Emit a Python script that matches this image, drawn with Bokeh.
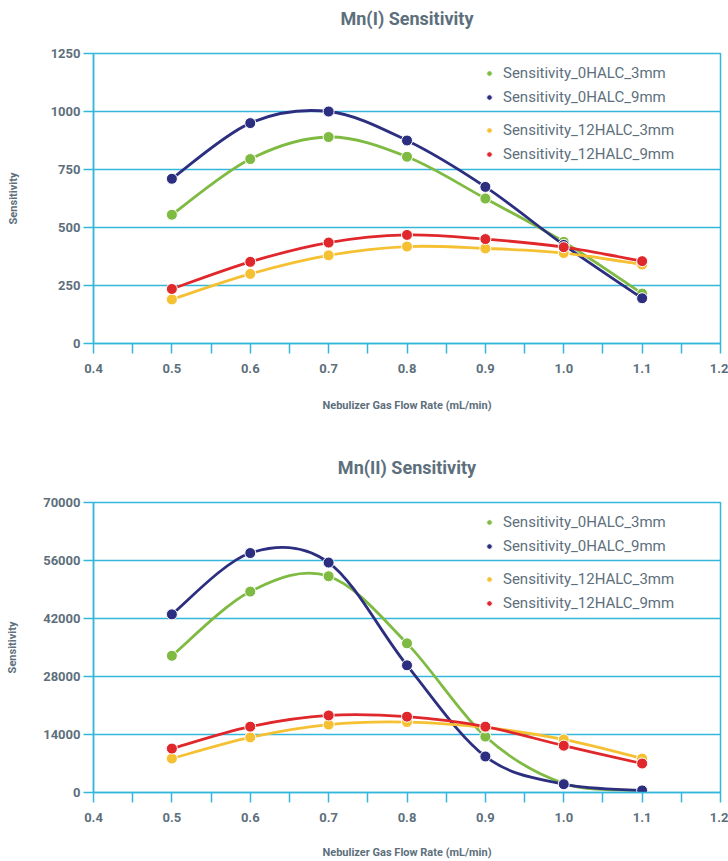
from bokeh.plotting import figure
from bokeh.models import (Range1d, FixedTicker, PrintfTickFormatter,
                          Legend, LegendItem, Title, ColumnDataSource)
from bokeh.layouts import column
from bokeh.embed import file_html
from bokeh.resources import INLINE

# ---------------- data ----------------
flow = [0.5, 0.6, 0.7, 0.8, 0.9, 1.0, 1.1]
series_names = ["Sensitivity_0HALC_3mm", "Sensitivity_0HALC_9mm",
                "Sensitivity_12HALC_3mm", "Sensitivity_12HALC_9mm"]

mn1_0halc_3mm = [555, 795, 890, 805, 625, 438, 215]
mn1_0halc_9mm = [710, 950, 1000, 875, 675, 425, 195]
mn1_12halc_3mm = [190, 300, 380, 418, 410, 390, 340]
mn1_12halc_9mm = [235, 352, 435, 468, 450, 415, 355]

mn2_0halc_3mm = [33000, 48500, 52200, 36000, 13500, 2200, 500]
mn2_0halc_9mm = [43000, 57800, 55500, 30700, 8700, 2000, 500]
mn2_12halc_3mm = [8200, 13300, 16400, 17000, 15700, 12800, 8200]
mn2_12halc_9mm = [10600, 15900, 18600, 18300, 15900, 11300, 7000]

x_ticks = [0.4, 0.5, 0.6, 0.7, 0.8, 0.9, 1.0, 1.1, 1.2]
x_minor_ticks = [0.45, 0.55, 0.65, 0.75, 0.85, 0.95, 1.05, 1.15]
mn1_y_ticks = [0, 250, 500, 750, 1000, 1250]
mn2_y_ticks = [0, 14000, 28000, 42000, 56000, 70000]

# ---------------- style ----------------
COLORS = ["#7fba42", "#2c2f80", "#f6c033", "#e0272b"]
GRID = "#35b7db"
TEXT = "#5d6f7c"
FONT = "Roboto"


def smooth_segments(xs, ys):
    """Bezier (Catmull-Rom style) control points for a smoothed line through the points."""
    n = len(xs)
    seg = dict(x0=[], y0=[], x1=[], y1=[], cx0=[], cy0=[], cx1=[], cy1=[])
    for i in range(n - 1):
        ip = max(i - 1, 0)
        inn = min(i + 2, n - 1)
        seg["x0"].append(xs[i]); seg["y0"].append(ys[i])
        seg["x1"].append(xs[i + 1]); seg["y1"].append(ys[i + 1])
        seg["cx0"].append(xs[i] + (xs[i + 1] - xs[ip]) / 6.0)
        seg["cy0"].append(ys[i] + (ys[i + 1] - ys[ip]) / 6.0)
        seg["cx1"].append(xs[i + 1] - (xs[inn] - xs[i]) / 6.0)
        seg["cy1"].append(ys[i + 1] - (ys[inn] - ys[i]) / 6.0)
    return seg


def make_chart(title, series, yticks, height, border_bottom, ylabel_standoff, xlabel_standoff):
    p = figure(width=728, height=height, output_backend="svg", toolbar_location=None,
               x_range=Range1d(0.4, 1.2), y_range=Range1d(yticks[0], yticks[-1]),
               min_border_left=93, min_border_right=8, min_border_top=53,
               min_border_bottom=border_bottom)
    p.background_fill_color = "white"
    p.border_fill_color = "white"
    p.outline_line_color = GRID
    p.outline_line_width = 1.5

    # spacer between title and frame, then the real title (outermost)
    p.add_layout(Title(text=" ", text_font_size="1px", standoff=22), "above")
    p.title.text = title
    p.title.align = "center"
    p.title.standoff = 0
    p.title.text_font = FONT
    p.title.text_font_size = "18px"
    p.title.text_font_style = "bold"
    p.title.text_color = TEXT

    # axes
    p.xaxis.ticker = FixedTicker(ticks=x_ticks, minor_ticks=x_minor_ticks)
    p.xaxis.formatter = PrintfTickFormatter(format="%.1f")
    p.yaxis.ticker = FixedTicker(ticks=yticks)
    for ax in (p.xaxis[0], p.yaxis[0]):
        ax.axis_line_color = GRID
        ax.axis_line_width = 1.5
        ax.major_tick_line_color = GRID
        ax.major_tick_line_width = 1.5
        ax.minor_tick_line_color = GRID
        ax.minor_tick_line_width = 1.5
        ax.major_tick_in = 0
        ax.major_tick_out = 10
        ax.minor_tick_in = 0
        ax.major_label_text_font = FONT
        ax.major_label_text_font_size = "13px"
        ax.major_label_text_font_style = "bold"
        ax.major_label_text_color = TEXT
        ax.axis_label_text_font = FONT
        ax.axis_label_text_font_size = "11px"
        ax.axis_label_text_font_style = "bold"
        ax.axis_label_text_color = TEXT
    p.xaxis.minor_tick_out = 10
    p.yaxis.minor_tick_line_color = None
    p.xaxis.major_label_standoff = 10
    p.yaxis.major_label_standoff = 3
    p.xaxis.axis_label = "Nebulizer Gas Flow Rate (mL/min)"
    p.yaxis.axis_label = "Sensitivity"
    p.xaxis.axis_label_standoff = xlabel_standoff
    p.yaxis.axis_label_standoff = ylabel_standoff

    p.xgrid.grid_line_color = None
    p.ygrid.ticker = FixedTicker(ticks=yticks)
    p.ygrid.grid_line_color = GRID
    p.ygrid.grid_line_width = 1.5

    dots = []
    for ys, color in zip(series, COLORS):
        seg = smooth_segments(flow, ys)
        p.bezier(x0="x0", y0="y0", x1="x1", y1="y1", cx0="cx0", cy0="cy0", cx1="cx1", cy1="cy1",
                 source=ColumnDataSource(seg), line_color=color, line_width=2.8)
        dots.append(p.scatter(flow, ys, marker="circle", size=11, fill_color=color,
                              line_color="white", line_width=1))

    common = dict(padding=0, spacing=4, label_height=20, glyph_height=20, glyph_width=14,
                  label_standoff=7, border_line_color=None, background_fill_alpha=0,
                  label_text_font=FONT, label_text_font_size="15px",
                  label_text_color=TEXT)
    leg1 = Legend(items=[LegendItem(label=series_names[0], renderers=[dots[0]]),
                         LegendItem(label=series_names[1], renderers=[dots[1]])],
                  location=(389, 236), **common)
    leg2 = Legend(items=[LegendItem(label=series_names[2], renderers=[dots[2]]),
                         LegendItem(label=series_names[3], renderers=[dots[3]])],
                  location=(389, 179), **common)
    p.add_layout(leg1)
    p.add_layout(leg2)
    return p


p1 = make_chart("Mn(I) Sensitivity",
                [mn1_0halc_3mm, mn1_0halc_9mm, mn1_12halc_3mm, mn1_12halc_9mm],
                mn1_y_ticks, 449, 106, 28, 23)
p2 = make_chart("Mn(II) Sensitivity",
                [mn2_0halc_3mm, mn2_0halc_9mm, mn2_12halc_3mm, mn2_12halc_9mm],
                mn2_y_ticks, 412, 69, 21, 21)

layout = column(p1, p2, spacing=0)
open("out.html", "w").write(file_html(layout, INLINE))
